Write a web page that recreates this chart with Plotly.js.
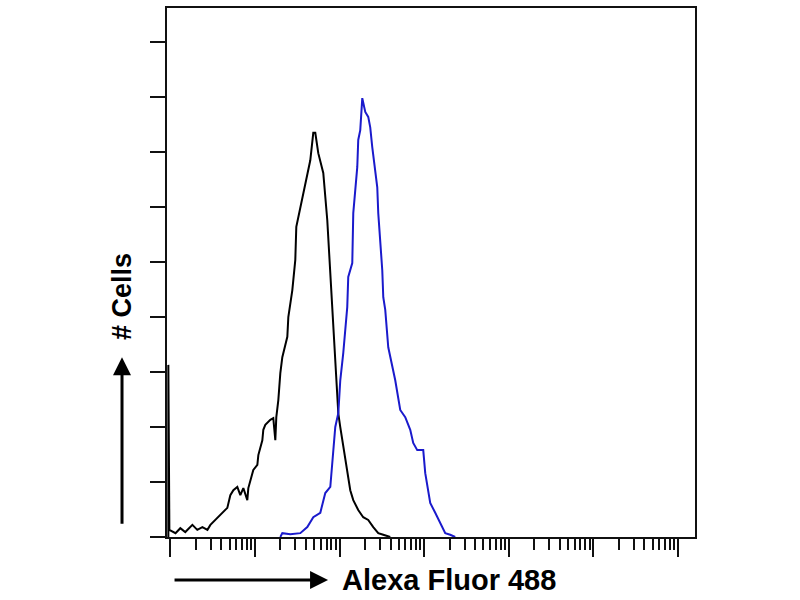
<!DOCTYPE html>
<html>
<head>
<meta charset="utf-8">
<script src="https://cdn.plot.ly/plotly-3.0.1.min.js"></script>
<style>html,body{margin:0;padding:0;background:#fff;}#chart{width:800px;height:600px;}</style>
</head>
<body>
<div id="chart"></div>
<script>
// Control (isotype) histogram - black
const controlFluor = [0.946,0.946,0.973,1.15,1.31,1.50,1.82,2.08,2.39,2.74,2.97,3.40,3.90,4.11,4.71,5.11,5.55,6.18,6.71,7.28,8.11,8.34,8.81,9.55,10.66,10.95,12.21,12.54,13.24,15.17,16.45,17.38,17.86,18.87,19.92,21.03,24.10,24.77,27.62,29.94,30.77,36.25,41.50,45.02,48.84,51.59,55.96,64.12,71.49,77.59,81.91,88.86,93.85,96.45,101.8,110.5,123.1,133.6,145.0,166.0,190.1,217.9,249.8,286.2,328.0,396.6];
const controlCells = [0,31.3,1.3,0.7,1.6,0.9,2.2,1.3,1.8,1.3,2.2,3.1,4.0,4.5,5.3,7.6,8.5,9.1,7.6,8.9,6.7,8.9,10.4,12.2,13.1,14.9,17.6,19.5,20.4,21.3,21.6,17.6,21.8,24.9,29.8,32.7,36.4,40.0,44.9,50.4,56.4,61.8,66.2,68.5,73.5,73.5,69.8,66.2,57.6,48.0,42.5,32.7,25.5,22.5,20.0,16.4,12.2,8.5,6.7,4.9,3.6,3.1,1.8,0.7,0.4,0];
// Antibody-stained histogram - blue
const stainedFluor = [19.92,21.03,26.14,34.31,41.50,48.84,59.10,67.70,77.59,84.18,88.86,96.45,101.8,110.5,123.1,126.5,141.1,145.0,161.7,166.0,175.4,185.3,201.0,217.9,230.1,243.1,263.7,278.6,286.2,302.3,319.2,328.0,346.2,375.7,454.3,520.5,596.6,683.6,741.3,826.6,973.5,1028,1085,1177,1349,1546,1772,2029,2323];
const stainedCells = [0,0.7,0.5,0.7,1.8,3.6,4.4,8.0,9.1,15.3,20.0,22.5,28.5,33.5,41.8,47.3,49.8,58.9,67.3,72.2,74.0,79.8,77.3,76.4,74.5,70.9,66.2,63.6,58.9,54.0,48.5,43.6,41.3,34.5,28.5,23.1,21.8,19.5,17.1,15.8,15.8,11.6,9.1,6.2,4.4,2.5,0.7,0.4,0];

const decades = [0,1,2,3,4,5,6];
const majorTicks = decades.map(d => Math.pow(10, d));
const minorTicks = [];
decades.forEach(d => { for (let m = 2; m <= 9; m++) minorTicks.push(m * Math.pow(10, d)); });

const traces = [
  {x: controlFluor, y: controlCells, type: 'scatter', mode: 'lines', line: {color: '#000000', width: 2}, hoverinfo: 'skip'},
  {x: stainedFluor, y: stainedCells, type: 'scatter', mode: 'lines', line: {color: '#1a1acc', width: 2}, hoverinfo: 'skip'}
];

const labelFont = {family: 'Liberation Sans, Arial, sans-serif', color: '#000', weight: 'bold'};

const layout = {
  width: 800, height: 600,
  margin: {l: 167, r: 105, t: 8, b: 63},
  paper_bgcolor: '#ffffff', plot_bgcolor: '#ffffff',
  showlegend: false,
  xaxis: {
    type: 'log', range: [-0.04, 6.2],
    showline: true, mirror: true, linecolor: '#111', linewidth: 2,
    showgrid: false, zeroline: false,
    tickmode: 'array', tickvals: majorTicks, ticktext: majorTicks.map(() => ''),
    ticks: 'outside', ticklen: 18, tickwidth: 2, tickcolor: '#111',
    minor: {tickmode: 'array', tickvals: minorTicks, ticks: 'outside', ticklen: 11, tickwidth: 2, tickcolor: '#111', showgrid: false}
  },
  yaxis: {
    range: [0, 96.2],
    showline: true, mirror: true, linecolor: '#111', linewidth: 2,
    showgrid: false, zeroline: false,
    tickmode: 'linear', tick0: 0, dtick: 10, showticklabels: false,
    ticks: 'outside', ticklen: 15, tickwidth: 2, tickcolor: '#111'
  },
  annotations: [
    {xref: 'paper', yref: 'paper', x: -0.0852, y: 0.4537, xanchor: 'center', yanchor: 'middle',
     text: '# Cells', textangle: -90, showarrow: false,
     font: Object.assign({size: 27}, labelFont)},
    {xref: 'paper', yref: 'paper', x: 0.534, y: -0.0813, xanchor: 'center', yanchor: 'middle',
     text: 'Alexa Fluor 488', showarrow: false,
     font: Object.assign({size: 29}, labelFont)},
    {xref: 'paper', yref: 'paper', x: -0.0852, y: 0.340, text: '', showarrow: true,
     ax: 0, ay: 168, arrowhead: 2, arrowsize: 1.2, arrowwidth: 3, arrowcolor: '#000'},
    {xref: 'paper', yref: 'paper', x: 0.305, y: -0.0813, text: '', showarrow: true,
     ax: -155, ay: 0, arrowhead: 2, arrowsize: 1.2, arrowwidth: 3, arrowcolor: '#000'}
  ]
};

Plotly.newPlot('chart', traces, layout, {displayModeBar: false, staticPlot: true});
</script>
</body>
</html>
